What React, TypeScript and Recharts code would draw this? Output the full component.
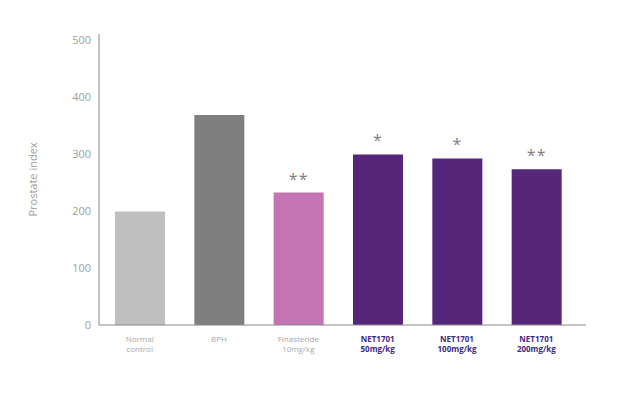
import React from 'react';
import { BarChart, Bar, XAxis, YAxis, Cell, LabelList } from 'recharts';

const groupLine1 = ['Normal', 'BPH', 'Finasteride', 'NET1701', 'NET1701', 'NET1701'];
const groupLine2 = ['control', '', '10mg/kg', '50mg/kg', '100mg/kg', '200mg/kg'];
const prostateIndex = [199, 368, 232, 299, 292, 273];
const significance = ['', '', '**', '*', '*', '**'];
const barColors = ['#bfbfbf', '#7f7f7f', '#c474b2', '#56267b', '#56267b', '#56267b'];
const labelColors = ['#a8a8a8', '#a8a8a8', '#a8a8a8', '#3b2a7e', '#3b2a7e', '#3b2a7e'];
const labelBold = [false, false, false, true, true, true];
const yTicks = [0, 100, 200, 300, 400, 500];

const data = groupLine1.map((l1, i) => ({
  key: String(i),
  l1,
  l2: groupLine2[i],
  value: prostateIndex[i],
  sig: significance[i],
}));

const FONT = '"Open Sans", "DejaVu Sans", sans-serif';

const XTick = (props: any) => {
  const { x, y, payload } = props;
  const i = Number(payload.value);
  const d = data[i];
  return (
    <g>
      <text x={x} y={y + 9} textAnchor="middle" fontSize={8} fontFamily={FONT}
        fill={labelColors[i]} fontWeight={labelBold[i] ? 700 : 400}>
        <tspan x={x} dy={0}>{d.l1}</tspan>
        {d.l2 ? <tspan x={x} dy={10}>{d.l2}</tspan> : null}
      </text>
    </g>
  );
};

const SigLabel = (props: any) => {
  const { x, y, width, value } = props;
  if (!value) return null;
  return (
    <text x={x + width / 2} y={y - 8} textAnchor="middle" fontSize={16}
      fontFamily={FONT} fill="#808080" letterSpacing={1}>
      {value}
    </text>
  );
};

export default function App() {
  return (
    <div style={{ position: 'absolute', left: 0, top: 0, width: 629, height: 398, background: '#fff' }}>
      <BarChart width={629} height={398} data={data}
        margin={{ top: 34, right: 43, bottom: 33, left: 0 }}>
        <XAxis dataKey="key" height={40} tick={<XTick />} tickLine={false}
          axisLine={{ stroke: '#888', strokeWidth: 1 }} interval={0}
          padding={{ left: 1, right: 10 }} />
        <YAxis width={99} domain={[0, 510]} ticks={yTicks} tickLine={false}
          axisLine={{ stroke: '#888', strokeWidth: 1 }}
          tick={{ fontSize: 11, fill: '#a0a0a0', fontFamily: FONT }}
          tickMargin={2}
          label={{ value: 'Prostate index', angle: -90, position: 'insideLeft', offset: 33,
            style: { textAnchor: 'middle', fontSize: 11, fill: '#a0a0a0', fontFamily: FONT } }} />
        <Bar dataKey="value" barSize={50} isAnimationActive={false}>
          {data.map((d, i) => <Cell key={d.key} fill={barColors[i]} />)}
          <LabelList dataKey="sig" content={<SigLabel />} />
        </Bar>
      </BarChart>
    </div>
  );
}
